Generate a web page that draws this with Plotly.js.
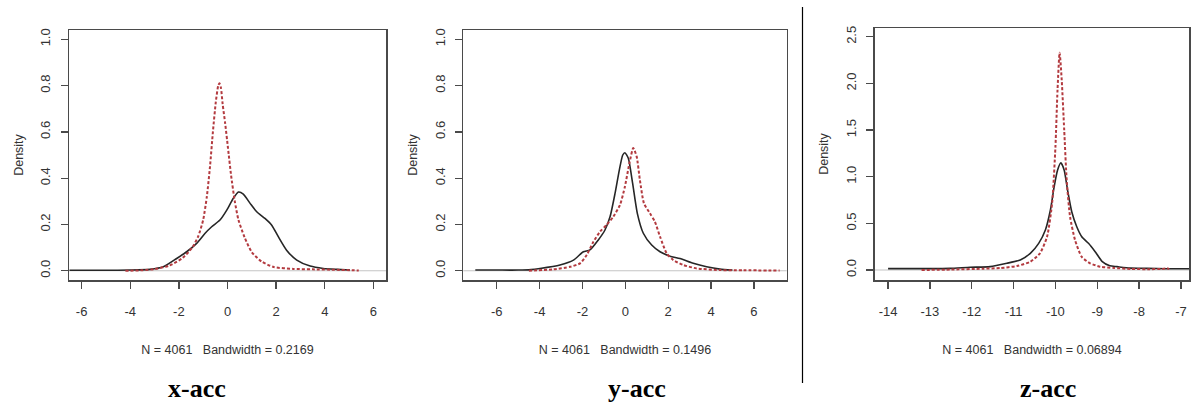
<!DOCTYPE html>
<html>
<head>
<meta charset="utf-8">
<script src="https://cdn.plot.ly/plotly-3.0.1.min.js"></script>
<style>html,body{margin:0;padding:0;background:#fff;}#chart{width:1192px;height:414px;}</style>
</head>
<body>
<div id="chart"></div>
<script>
// ---------- data ----------
const panelLabels = ["x-acc", "y-acc", "z-acc"];
const bandwidthTitles = [
  "N = 4061\u00a0\u00a0 Bandwidth = 0.2169",
  "N = 4061\u00a0\u00a0 Bandwidth = 0.1496",
  "N = 4061\u00a0\u00a0 Bandwidth = 0.06894"
];
const yTitle = "Density";

// x-acc
const xAccSolidX = [-6.5, -5, -4, -3.19, -2.64, -2.09, -1.68, -1.27, -0.93, -0.65, -0.31, -0.03, 0.24, 0.45, 0.65, 0.93, 1.20, 1.54, 1.82, 2.09, 2.43, 2.85, 3.40, 3.94, 4.5, 5.04];
const xAccSolidY = [0.002, 0.002, 0.003, 0.006, 0.017, 0.053, 0.082, 0.118, 0.161, 0.190, 0.219, 0.262, 0.313, 0.340, 0.331, 0.291, 0.255, 0.226, 0.197, 0.147, 0.089, 0.046, 0.020, 0.010, 0.006, 0.003];
const xAccDashX = [-4.2, -3.5, -3.0, -2.4, -1.85, -1.45, -1.2, -1.0, -0.85, -0.72, -0.6, -0.48, -0.38, -0.33, -0.27, -0.2, -0.1, 0.02, 0.15, 0.3, 0.45, 0.7, 1.0, 1.4, 1.9, 2.7, 3.5, 4.5, 5.4];
const xAccDashY = [0.0, 0.002, 0.007, 0.022, 0.055, 0.10, 0.15, 0.22, 0.32, 0.45, 0.60, 0.73, 0.80, 0.81, 0.79, 0.72, 0.64, 0.53, 0.41, 0.30, 0.22, 0.145, 0.08, 0.04, 0.016, 0.008, 0.006, 0.004, 0.001];

// y-acc
const yAccSolidX = [-7.0, -6, -5, -4.4, -3.98, -3.05, -2.42, -1.96, -1.65, -1.26, -0.95, -0.71, -0.48, -0.28, -0.12, -0.02, 0.14, 0.34, 0.56, 0.84, 1.23, 1.62, 2.08, 2.55, 3.17, 3.79, 4.41, 5.0];
const yAccSolidY = [0.003, 0.003, 0.003, 0.005, 0.010, 0.025, 0.046, 0.082, 0.090, 0.133, 0.176, 0.234, 0.334, 0.435, 0.500, 0.510, 0.486, 0.378, 0.248, 0.162, 0.111, 0.082, 0.063, 0.053, 0.032, 0.017, 0.007, 0.003];
const yAccDashX = [-4.5, -3.36, -2.58, -2.11, -1.80, -1.49, -1.18, -0.87, -0.56, -0.25, -0.02, 0.19, 0.37, 0.53, 0.68, 0.87, 1.15, 1.38, 1.62, 1.93, 2.24, 2.70, 3.33, 4.41, 5.5, 7.2];
const yAccDashY = [0.0, 0.006, 0.017, 0.032, 0.068, 0.125, 0.169, 0.198, 0.234, 0.284, 0.363, 0.464, 0.530, 0.493, 0.392, 0.291, 0.248, 0.212, 0.147, 0.075, 0.046, 0.025, 0.010, 0.003, 0.002, 0.001];

// z-acc
const zAccSolidX = [-14.0, -13.0, -12.52, -12.04, -11.56, -11.16, -10.84, -10.60, -10.40, -10.24, -10.12, -10.03, -9.95, -9.87, -9.79, -9.71, -9.61, -9.49, -9.37, -9.21, -9.05, -8.88, -8.7, -8.53, -8.21, -7.81, -7.33, -6.8];
const zAccSolidY = [0.015, 0.015, 0.018, 0.029, 0.036, 0.072, 0.108, 0.179, 0.286, 0.429, 0.643, 0.893, 1.07, 1.15, 1.07, 0.857, 0.625, 0.464, 0.357, 0.286, 0.196, 0.09, 0.045, 0.036, 0.020, 0.018, 0.014, 0.014];
const zAccDashX = [-13.2, -12.5, -11.72, -11.32, -10.92, -10.60, -10.37, -10.20, -10.08, -10.00, -9.95, -9.90, -9.85, -9.79, -9.73, -9.65, -9.53, -9.37, -9.17, -8.93, -8.6, -8.2, -7.8, -7.45, -7.33, -7.28];
const zAccDashY = [0.0, 0.005, 0.014, 0.021, 0.043, 0.089, 0.179, 0.357, 0.714, 1.32, 1.93, 2.33, 2.04, 1.50, 0.96, 0.57, 0.32, 0.14, 0.072, 0.036, 0.022, 0.012, 0.009, 0.012, 0.018, 0.010];

// tick values / labels
const xTicks12 = [-6, -4, -2, 0, 2, 4, 6];
const xTicks3 = [-14, -13, -12, -11, -10, -9, -8, -7];
const yTicks12 = [0, 0.2, 0.4, 0.6, 0.8, 1.0];
const yTicks3 = [0, 0.5, 1.0, 1.5, 2.0, 2.5];

// ---------- styling ----------
const W = 1192, H = 414;
const SANS = "Liberation Sans, Arial, sans-serif";
const SERIF = "Liberation Serif, Times New Roman, serif";
const AX = "#4a4a4a";
const SOLID = {color: "#262626", width: 1.6, shape: "spline", smoothing: 0.6};
const DASH = {color: "#b33a3f", width: 2, dash: "3px,2px", shape: "spline", smoothing: 0.6};

function px2x(a, b) { return [a / W, b / W]; }
function px2y(top, bottom) { return [1 - bottom / H, 1 - top / H]; }

function xAxis(dom, range, ticks, title, anchor) {
  return {
    domain: dom, range: range, anchor: anchor,
    tickmode: "array", tickvals: ticks, ticktext: ticks.map(String),
    ticks: "outside", ticklen: 7, tickwidth: 1.3, tickcolor: AX,
    showline: true, mirror: true, linecolor: AX, linewidth: 1.5,
    showgrid: false, zeroline: false, fixedrange: true,
    ticklabelstandoff: 12,
    tickfont: {family: SANS, size: 13, color: "#333"},
    title: {text: title, font: {family: SANS, size: 12.5, color: "#333"}, standoff: 27}
  };
}
function yAxis(dom, range, ticks, anchor) {
  return {
    domain: dom, range: range, anchor: anchor,
    tickmode: "array", tickvals: ticks, ticktext: ticks.map(v => v.toFixed(1)),
    ticks: "outside", ticklen: 7, tickwidth: 1.3, tickcolor: AX,
    showline: true, mirror: true, linecolor: AX, linewidth: 1.5,
    showgrid: false, zeroline: false, fixedrange: true,
    tickangle: -90, ticklabelstandoff: 5,
    tickfont: {family: SANS, size: 13, color: "#333"},
    title: {text: yTitle, font: {family: SANS, size: 12.5, color: "#333"}, standoff: 12}
  };
}

const traces = [
  {x: xAccSolidX, y: xAccSolidY, xaxis: "x", yaxis: "y", mode: "lines", line: SOLID},
  {x: xAccDashX, y: xAccDashY, xaxis: "x", yaxis: "y", mode: "lines", line: DASH},
  {x: yAccSolidX, y: yAccSolidY, xaxis: "x2", yaxis: "y2", mode: "lines", line: SOLID},
  {x: yAccDashX, y: yAccDashY, xaxis: "x2", yaxis: "y2", mode: "lines", line: DASH},
  {x: zAccSolidX, y: zAccSolidY, xaxis: "x3", yaxis: "y3", mode: "lines", line: SOLID},
  {x: zAccDashX, y: zAccDashY, xaxis: "x3", yaxis: "y3", mode: "lines", line: DASH}
];

const zeroLine = (xr, yr) => ({type: "line", xref: xr + " domain", yref: yr, x0: 0, x1: 1, y0: 0, y1: 0,
  line: {color: "#c4c4c4", width: 1.2}, layer: "below"});

const labelCenters = [197, 637, 1048];
const annotations = panelLabels.map((t, i) => ({
  text: "<b>" + t + "</b>", xref: "paper", yref: "paper",
  x: labelCenters[i] / W, y: 1 - 388 / H, xanchor: "center", yanchor: "middle",
  showarrow: false, font: {family: SERIF, size: 26, color: "#000"}
}));

const layout = {
  width: W, height: H,
  margin: {l: 0, r: 0, t: 0, b: 0, pad: 0},
  paper_bgcolor: "#fff", plot_bgcolor: "#fff",
  showlegend: false,
  xaxis: xAxis(px2x(69, 386), [-6.52, 6.52], xTicks12, bandwidthTitles[0], "y"),
  yaxis: yAxis(px2y(30, 280), [-0.04, 1.04], yTicks12, "x"),
  xaxis2: xAxis(px2x(463.3, 786.7), [-7.56, 7.53], xTicks12, bandwidthTitles[1], "y2"),
  yaxis2: yAxis(px2y(30, 280), [-0.04, 1.04], yTicks12, "x2"),
  xaxis3: xAxis(px2x(874.7, 1189.3), [-14.32, -6.8], xTicks3, bandwidthTitles[2], "y3"),
  yaxis3: yAxis(px2y(28, 280), [-0.107, 2.594], yTicks3, "x3"),
  shapes: [
    zeroLine("x", "y"), zeroLine("x2", "y2"), zeroLine("x3", "y3"),
    {type: "line", xref: "paper", yref: "paper", x0: 802.5 / W, x1: 802.5 / W, y0: 1 - 383 / H, y1: 1 - 7 / H,
      line: {color: "#000", width: 1.2}}
  ],
  annotations: annotations
};

Plotly.newPlot("chart", traces, layout, {displayModeBar: false, staticPlot: true});
</script>
</body>
</html>
